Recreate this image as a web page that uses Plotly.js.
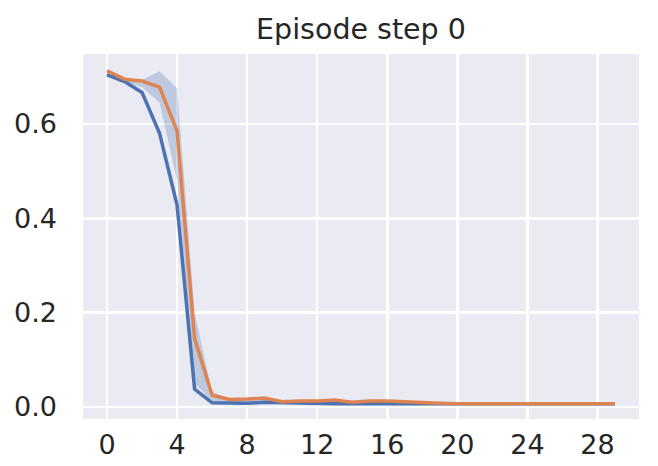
<!DOCTYPE html>
<html>
<head>
<meta charset="utf-8">
<script src="https://cdn.plot.ly/plotly-3.0.1.min.js"></script>
<style>html,body{margin:0;padding:0;background:#fff;}#chart{width:658px;height:466px;}</style>
</head>
<body>
<div id="chart"></div>
<script>
const steps = Array.from({length: 30}, (_, i) => i);
const blueValues = [0.704, 0.690, 0.667, 0.580, 0.428, 0.038, 0.009, 0.008, 0.008, 0.010, 0.009, 0.008, 0.007, 0.007, 0.007, 0.007, 0.008, 0.008, 0.0075, 0.007, 0.007, 0.007, 0.007, 0.007, 0.007, 0.007, 0.007, 0.007, 0.007, 0.007];
const orangeValues = [0.713, 0.695, 0.691, 0.678, 0.585, 0.145, 0.025, 0.016, 0.017, 0.019, 0.011, 0.013, 0.013, 0.015, 0.010, 0.013, 0.013, 0.011, 0.009, 0.008, 0.007, 0.007, 0.007, 0.007, 0.007, 0.007, 0.007, 0.007, 0.007, 0.007];
const bandUpper = [0.714, 0.696, 0.694, 0.712, 0.676, 0.200, 0.032, 0.018, 0.019, 0.021, 0.013, 0.015, 0.015, 0.017, 0.012, 0.015, 0.015, 0.012, 0.010, 0.009, 0.008, 0.008, 0.008, 0.008, 0.008, 0.008, 0.008, 0.008, 0.008, 0.008];
const bandLower = [0.703, 0.689, 0.678, 0.645, 0.480, 0.050, 0.012, 0.009, 0.009, 0.011, 0.009, 0.009, 0.008, 0.008, 0.008, 0.008, 0.009, 0.008, 0.007, 0.006, 0.006, 0.006, 0.006, 0.006, 0.006, 0.006, 0.006, 0.006, 0.006, 0.006];
const xTicks = [0, 4, 8, 12, 16, 20, 24, 28];
const yTicks = [0.0, 0.2, 0.4, 0.6];
const yTickText = ["0.0", "0.2", "0.4", "0.6"];
const titleText = "Episode step 0";

const textColor = "#262626";
const traces = [
  {x: steps, y: bandLower, mode: "lines", line: {width: 0, color: "rgba(0,0,0,0)"}, hoverinfo: "skip", showlegend: false},
  {x: steps, y: bandUpper, mode: "lines", fill: "tonexty", fillcolor: "rgba(76,114,176,0.28)", line: {width: 0, color: "rgba(0,0,0,0)"}, hoverinfo: "skip", showlegend: false},
  {x: steps, y: blueValues, mode: "lines", line: {color: "#4C72B0", width: 3.5}, showlegend: false},
  {x: steps, y: orangeValues, mode: "lines", line: {color: "#DD8452", width: 3.5}, showlegend: false}
];
const layout = {
  width: 658, height: 466,
  margin: {l: 83, r: 19, t: 54, b: 47, pad: 0},
  paper_bgcolor: "#ffffff",
  plot_bgcolor: "#EAEAF2",
  font: {family: "DejaVu Sans", color: textColor, size: 27},
  title: {text: titleText, font: {size: 28.5, color: textColor, family: "DejaVu Sans"}, x: 0.5, xref: "paper", y: 1 - 29/466, yanchor: "middle"},
  showlegend: false,
  xaxis: {range: [-1.37, 30.37], tickvals: xTicks, ticktext: xTicks.map(String), showgrid: true, gridcolor: "#ffffff", gridwidth: 2.5, zeroline: false, showline: false, ticks: "", tickfont: {size: 27, color: textColor}, ticklabelstandoff: 7, fixedrange: true},
  yaxis: {range: [-0.0254, 0.7484], tickvals: yTicks, ticktext: yTickText, showgrid: true, gridcolor: "#ffffff", gridwidth: 2.5, zeroline: false, showline: false, ticks: "", tickfont: {size: 27, color: textColor}, ticklabelstandoff: 25, fixedrange: true}
};
Plotly.newPlot("chart", traces, layout, {displayModeBar: false, staticPlot: true});
</script>
</body>
</html>
